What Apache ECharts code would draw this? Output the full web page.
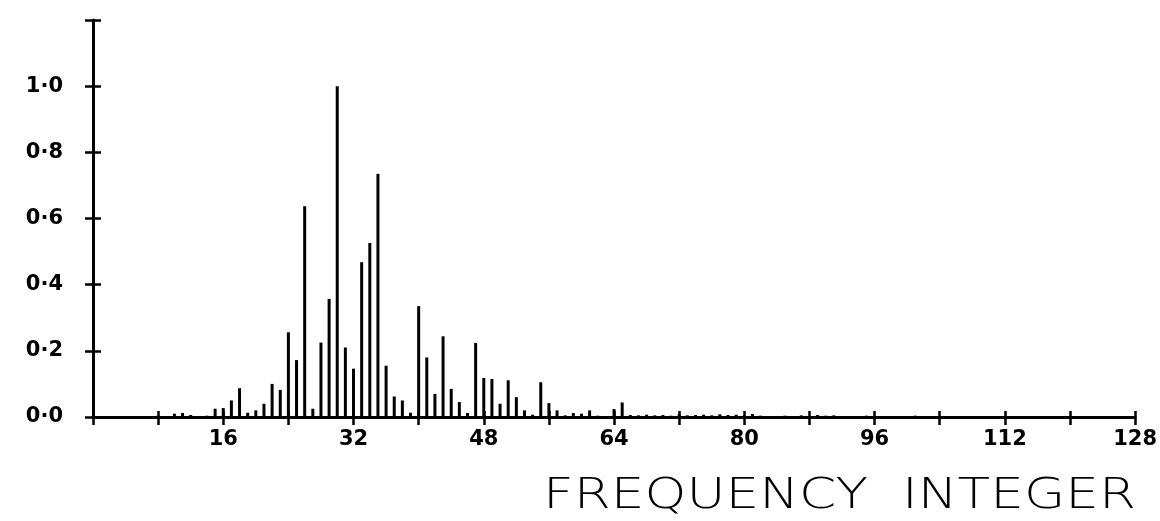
<!DOCTYPE html>
<html>
<head>
<meta charset="utf-8">
<script src="https://cdn.jsdelivr.net/npm/echarts@6/dist/echarts.min.js"></script>
<style>html,body{margin:0;padding:0;background:#fff;}#c{width:1160px;height:521px;}</style>
</head>
<body>
<div id="c"></div>
<script>
// Frequency integers and normalised amplitudes
const freqIndex = [4, 8, 10, 11, 12, 14, 15, 16, 17, 18, 19, 20, 21, 22, 23, 24, 25, 26, 27, 28, 29, 30,
  31, 32, 33, 34, 35, 36, 37, 38, 39, 40, 41, 42, 43, 44, 45, 46, 47, 48, 49, 50, 51, 52, 53, 54, 55, 56,
  57, 58, 59, 60, 61, 62, 64, 65, 66, 67, 68, 69, 70, 71, 72, 73, 74, 75, 76, 77, 78, 79, 80, 81, 82, 83,
  85, 87, 89, 90, 91, 93, 95, 99, 101, 104, 107, 110, 115, 120, 124];
const amplitude = [0.003, 0.004, 0.01, 0.012, 0.006, 0.004, 0.025, 0.027, 0.05, 0.087, 0.013, 0.02, 0.04, 0.10, 0.082, 0.256, 0.172, 0.637, 0.025, 0.225, 0.357, 1.0,
  0.21, 0.146, 0.468, 0.526, 0.735, 0.155, 0.062, 0.05, 0.013, 0.335, 0.18, 0.07, 0.244, 0.085, 0.045, 0.012, 0.224, 0.118, 0.115, 0.04, 0.111, 0.06, 0.02, 0.007, 0.105, 0.042,
  0.02, 0.005, 0.012, 0.01, 0.02, 0.004, 0.024, 0.044, 0.006, 0.005, 0.007, 0.005, 0.006, 0.004, 0.008, 0.005, 0.006, 0.007, 0.005, 0.008, 0.006, 0.007, 0.005, 0.009, 0.004, 0.003,
  0.004, 0.005, 0.006, 0.004, 0.005, 0.003, 0.004, 0.003, 0.004, 0.003, 0.003, 0.003, 0.002, 0.002, 0.002];
const xTickLabels = ['16', '32', '48', '64', '80', '96', '112', '128'];
const yTickLabels = ['0·0', '0·2', '0·4', '0·6', '0·8', '1·0'];
const xTitle = 'FREQUENCY  INTEGER';

const chart = echarts.init(document.getElementById('c'), null, {renderer: 'canvas'});
const ink = '#000';
const labelFont = {color: ink, fontFamily: 'DejaVu Sans', fontWeight: 'bold', fontSize: 21};

function xLabel(v) {
  const s = String(Math.round(v));
  return xTickLabels.indexOf(s) >= 0 ? s : '';
}
function yLabel(v) {
  const i = Math.round(v / 0.2);
  return i < yTickLabels.length ? yTickLabels[i] : '';
}

// stretch the axis title horizontally to the plotter-style width
const titleFont = '200 42px "DejaVu Sans"';
const mctx = document.createElement('canvas').getContext('2d');
mctx.font = titleFont;
const titleWidth = mctx.measureText(xTitle).width || 490;
const titleScale = 593 / titleWidth;

const xBase = {type: 'value', min: 0, max: 128, interval: 8, splitLine: {show: false}};
const yBase = {type: 'value', min: 0, max: 1.2, interval: 0.2, splitLine: {show: false}};

chart.setOption({
  animation: false,
  backgroundColor: '#fff',
  graphic: [{
    type: 'text',
    x: 1136, y: 497,
    scaleX: titleScale,
    style: {
      text: xTitle, fill: ink,
      fontFamily: 'DejaVu Sans', fontWeight: 200, fontSize: 42,
      textAlign: 'right', textVerticalAlign: 'middle',
      align: 'right', verticalAlign: 'middle'
    }
  }],
  grid: {left: 93, right: 24, top: 20, bottom: 104, containLabel: false},
  xAxis: [
    Object.assign({}, xBase, {
      position: 'bottom',
      axisLine: {show: true, lineStyle: {color: ink, width: 3}},
      axisTick: {show: true, inside: false, length: 8, lineStyle: {color: ink, width: 2.5}},
      axisLabel: Object.assign({margin: 12, formatter: xLabel}, labelFont)
    }),
    Object.assign({}, xBase, {
      position: 'bottom',
      axisLine: {show: false},
      axisTick: {show: true, inside: true, length: 6, lineStyle: {color: ink, width: 2.5}},
      axisLabel: {show: false}
    })
  ],
  yAxis: [
    Object.assign({}, yBase, {
      position: 'left',
      axisLine: {show: true, lineStyle: {color: ink, width: 3}},
      axisTick: {show: true, inside: false, length: 8, lineStyle: {color: ink, width: 2.5}},
      axisLabel: Object.assign({margin: 30, formatter: yLabel}, labelFont)
    }),
    Object.assign({}, yBase, {
      position: 'left',
      axisLine: {show: false},
      axisTick: {show: true, inside: true, length: 8, lineStyle: {color: ink, width: 2.5}},
      axisLabel: {show: false}
    })
  ],
  series: [{
    type: 'bar',
    xAxisIndex: 0,
    yAxisIndex: 0,
    barWidth: 3,
    itemStyle: {color: ink},
    data: freqIndex.map((f, i) => [f, amplitude[i]])
  }]
});
</script>
</body>
</html>
